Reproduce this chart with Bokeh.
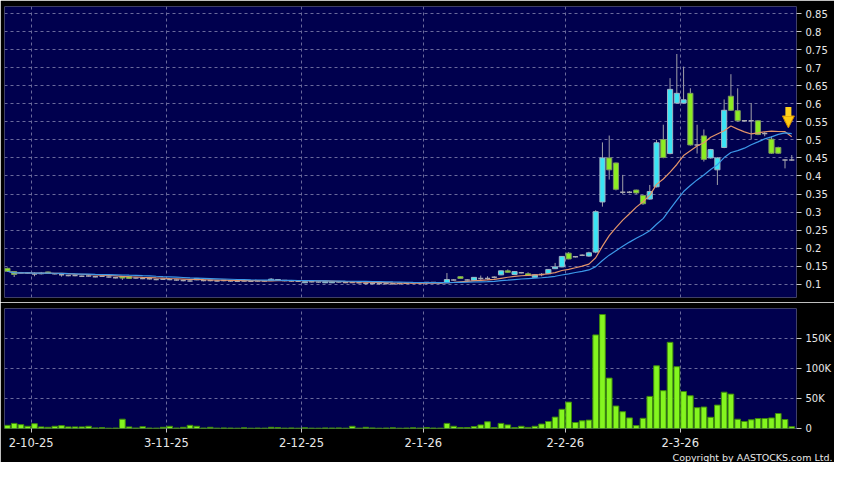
import pandas as pd
from bokeh.plotting import figure
from bokeh.layouts import column
from bokeh.models import (Range1d, FixedTicker, NumeralTickFormatter, ColumnDataSource,
                          Title, Arrow, NormalHead)
from bokeh.embed import file_html
from bokeh.resources import INLINE

# ---------------- data ----------------
opens = [
    .144, .135, .132, .131, .128, .130, .134, .129, .126, .124,
    .124, .122, .123, .121, .122, .120, .118, .122, .121, .117,
    .116, .115, .113, .114, .113, .112, .110, .109, .112, .110,
    .110, .109, .110, .109, .108, .109, .108, .109, .109, .110,
    .111, .110, .109, .108, .104, .107, .106, .104, .104, .106,
    .105, .105, .104, .103, .102, .102, .102, .101, .102, .103,
    .104, .104, .105, .105, .104, .104, .112, .121, .112, .111,
    .116, .116, .119, .126, .137, .127, .132, .129, .119, .127,
    .129, .143, .148, .186, .176, .180, .178, .189, .328, .450,
    .436, .355, .355, .361, .346, .336, .370, .501, .462, .602,
    .602, .629, .486, .511, .450, .417, .479, .621, .581, .553,
    .553, .553, .518, .502, .479, .444, .444]
highs = [
    .146, .136, .134, .133, .133, .134, .135, .131, .128, .126,
    .125, .124, .125, .123, .123, .122, .120, .123, .122, .118,
    .118, .117, .115, .115, .114, .113, .112, .111, .117, .112,
    .111, .110, .111, .110, .110, .110, .109, .110, .110, .117,
    .114, .111, .110, .109, .108, .108, .107, .108, .108, .107,
    .106, .107, .105, .104, .103, .103, .103, .102, .103, .104,
    .105, .105, .106, .106, .106, .131, .114, .122, .114, .120,
    .124, .122, .122, .138, .141, .136, .134, .133, .127, .131,
    .142, .159, .178, .189, .178, .183, .190, .305, .493, .512,
    .437, .403, .358, .362, .347, .375, .500, .542, .671, .738,
    .703, .643, .542, .529, .475, .452, .612, .682, .643, .555,
    .602, .555, .522, .510, .481, .446, .458]
lows = [
    .134, .120, .130, .129, .122, .127, .129, .127, .121, .122,
    .122, .120, .121, .119, .120, .118, .116, .112, .115, .115,
    .114, .113, .111, .112, .111, .110, .108, .107, .111, .108,
    .108, .107, .108, .107, .106, .107, .106, .107, .107, .110,
    .110, .108, .107, .106, .103, .105, .104, .103, .103, .104,
    .103, .103, .102, .099, .100, .098, .099, .099, .099, .100,
    .102, .100, .100, .103, .102, .104, .110, .115, .110, .110,
    .112, .112, .116, .125, .132, .126, .130, .123, .118, .122,
    .128, .142, .147, .169, .174, .178, .176, .186, .315, .390,
    .360, .350, .352, .350, .320, .334, .368, .449, .460, .600,
    .600, .484, .462, .440, .448, .375, .477, .580, .551, .551,
    .502, .513, .510, .461, .461, .421, .442]
closes = [
    .136, .127, .132, .131, .128, .130, .130, .129, .126, .124,
    .124, .122, .123, .121, .122, .120, .118, .117, .116, .117,
    .116, .115, .113, .114, .113, .112, .110, .109, .116, .110,
    .110, .109, .110, .109, .108, .109, .108, .109, .109, .114,
    .113, .110, .109, .108, .107, .107, .106, .107, .107, .106,
    .105, .105, .104, .103, .102, .102, .102, .101, .102, .103,
    .104, .104, .105, .105, .104, .113, .112, .116, .112, .119,
    .116, .116, .119, .137, .133, .135, .132, .124, .126, .127,
    .141, .148, .177, .170, .176, .180, .187, .301, .450, .417,
    .363, .355, .355, .353, .323, .357, .492, .451, .640, .629,
    .611, .486, .486, .446, .473, .450, .582, .582, .553, .553,
    .553, .515, .518, .463, .463, .444, .444]
volumes = [
    5300, 8500, 6400, 3700, 8000, 2700, 2000, 3700, 4800, 2700,
    2700, 2700, 3700, 1000, 1500, 500, 800, 15500, 2700, 800,
    3000, 800, 600, 2000, 3700, 800, 2000, 5300, 3700, 800,
    2000, 600, 1000, 800, 500, 1200, 500, 800, 600, 2000,
    1500, 600, 1000, 500, 1200, 600, 500, 1000, 800, 1000,
    500, 3700, 600, 2000, 1000, 500, 800, 1200, 500, 800,
    1200, 600, 1500, 800, 600, 8500, 3700, 1500, 1500, 3200,
    6000, 11200, 1500, 8500, 6000, 1500, 3700, 1800, 3700, 7400,
    11700, 19000, 32000, 44000, 10000, 12800, 14000, 156000, 190000, 84000,
    37500, 28000, 17700, 4800, 17000, 53500, 104500, 63000, 143600, 103000,
    61600, 54600, 34700, 35800, 18700, 39000, 60500, 57300, 15500, 11700,
    14500, 16600, 16600, 17600, 25000, 15000, 3000]

month_ticks = [3.5, 23.5, 43.5, 61.5, 82.5, 99.5]
month_labels = ["2-10-25", "3-11-25", "2-12-25", "2-1-26", "2-2-26", "2-3-26"]
price_ticks = [0.1, 0.15, 0.2, 0.25, 0.3, 0.35, 0.4, 0.45, 0.5, 0.55, 0.6, 0.65, 0.7, 0.75, 0.8, 0.85]
vol_ticks = [0, 50000, 100000, 150000]
vol_tick_labels = ["0", "50K", "100K", "150K"]
ma_short, ma_long = 10, 20
arrow_x, arrow_top, arrow_tip = 115.5, 0.591, 0.533

# ---------------- styles ----------------
NAVY = "#00004e"
GRID = "#6a6a9c"
TXT = "#e8e8e8"
CYAN = "#3ae4f4"
GREEN = "#8ced22"
WICK = "#a0a0a8"
FONT = "DejaVu Sans"

idx = list(range(len(closes)))
ma1 = pd.Series(closes).rolling(ma_short, min_periods=1).mean().tolist()
ma2 = pd.Series(closes).rolling(ma_long, min_periods=1).mean().tolist()

up = dict(x=[], top=[], bottom=[])
dn = dict(x=[], top=[], bottom=[])
dj = dict(x0=[], x1=[], y=[])
for i, o, c in zip(idx, opens, closes):
    if c > o:
        up["x"].append(i); up["top"].append(c); up["bottom"].append(o)
    elif c < o:
        dn["x"].append(i); dn["top"].append(o); dn["bottom"].append(c)
    else:
        dj["x0"].append(i - 0.38); dj["x1"].append(i + 0.38); dj["y"].append(c)

W = 834
xr = Range1d(-0.435, 116.7)


def style_common(fig):
    fig.background_fill_color = NAVY
    fig.border_fill_color = "black"
    fig.outline_line_color = None
    for ax in fig.yaxis:
        ax.axis_line_color = None
        ax.major_tick_line_color = "#c8c8c8"
        ax.major_tick_in = 0
        ax.major_tick_out = 5
        ax.minor_tick_line_color = None
        ax.major_label_text_color = TXT
        ax.major_label_text_font = FONT
        ax.major_label_text_font_size = "10px"
        ax.major_label_standoff = 4
    fig.ygrid.grid_line_color = GRID
    fig.ygrid.grid_line_dash = "3 3"
    fig.xgrid.grid_line_color = GRID
    fig.xgrid.grid_line_dash = "3 3"
    fig.xgrid.ticker = FixedTicker(ticks=month_ticks)


# ---------------- price panel ----------------
p = figure(width=W, height=302, x_range=xr, y_range=Range1d(0.0632, 0.8696),
           y_axis_location="right", x_axis_location=None, toolbar_location=None,
           output_backend="svg", min_border_left=4, min_border_right=38,
           min_border_top=6, min_border_bottom=5)
style_common(p)
p.yaxis.ticker = FixedTicker(ticks=price_ticks)
p.yaxis.formatter = NumeralTickFormatter(format="0.0[0]")

p.segment(x0=idx, y0=lows, x1=idx, y1=highs, line_color=WICK, line_width=1)
p.vbar(source=ColumnDataSource(up), x="x", top="top", bottom="bottom", width=0.76,
       fill_color=CYAN, line_color="#9fb4c4", line_width=1)
p.vbar(source=ColumnDataSource(dn), x="x", top="top", bottom="bottom", width=0.76,
       fill_color=GREEN, line_color="#7e9a5e", line_width=1)
p.segment(source=ColumnDataSource(dj), x0="x0", y0="y", x1="x1", y1="y",
          line_color="#a9a9b0", line_width=1.5)
p.line(idx, ma1, line_color="#e3946a", line_width=1.2)
p.line(idx, ma2, line_color="#3c98e8", line_width=1.2)
p.add_layout(Arrow(end=NormalHead(size=12, fill_color="#ffcc11", line_color="#d08a00", line_width=1),
                   x_start=arrow_x, y_start=arrow_top, x_end=arrow_x, y_end=arrow_tip,
                   line_color="#ffd21e", line_width=6))

# ---------------- volume panel ----------------
v = figure(width=W, height=160, x_range=xr, y_range=Range1d(0, 200000),
           y_axis_location="right", toolbar_location=None, output_backend="svg",
           min_border_left=4, min_border_right=38, min_border_top=6, min_border_bottom=34)
style_common(v)
v.yaxis.ticker = FixedTicker(ticks=vol_ticks)
v.yaxis.major_label_overrides = dict(zip(vol_ticks, vol_tick_labels))
v.xaxis.ticker = FixedTicker(ticks=month_ticks)
v.xaxis.major_label_overrides = dict(zip(month_ticks, month_labels))
v.xaxis.axis_line_color = None
v.xaxis.major_tick_line_color = "#c8c8c8"
v.xaxis.major_tick_in = 0
v.xaxis.major_tick_out = 4
v.xaxis.minor_tick_line_color = None
v.xaxis.major_label_text_color = TXT
v.xaxis.major_label_text_font = FONT
v.xaxis.major_label_text_font_size = "11.5px"
v.xaxis.major_label_standoff = 5

v.vbar(x=idx, top=volumes, bottom=0, width=0.84, fill_color="#84f51f",
       line_color="#3e8a0c", line_width=1)

v.add_layout(Title(text="Copyright by AASTOCKS.com Ltd.", align="right", text_color=TXT,
                   text_font=FONT, text_font_size="9.5px", text_font_style="normal",
                   standoff=0, offset=-36), "below")

layout = column(p, v, spacing=0)
open("out.html", "w").write(file_html(layout, INLINE))
